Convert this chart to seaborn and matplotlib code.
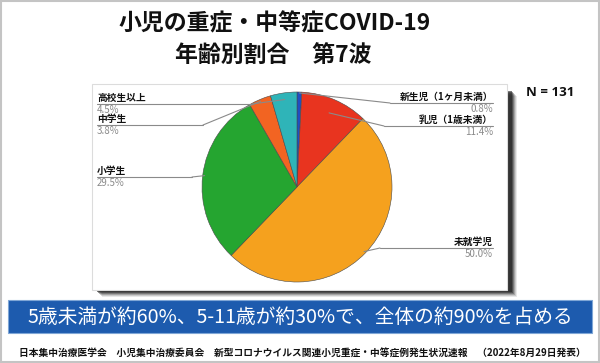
import matplotlib
matplotlib.use("Agg")
import matplotlib.pyplot as plt
import seaborn as sns
import numpy as np
from matplotlib.patches import Rectangle, ConnectionPatch
from matplotlib.lines import Line2D

# ---- data ----
title_lines = ["小児の重症・中等症COVID-19", "年齢別割合　第7波"]
categories = ["新生児（1ヶ月未満）", "乳児（1歳未満）", "未就学児", "小学生", "中学生", "高校生以上"]
values = [0.8, 11.4, 50.0, 29.5, 3.8, 4.5]
pct_labels = ["0.8%", "11.4%", "50.0%", "29.5%", "3.8%", "4.5%"]
colors = ["#1f4fc2", "#e8341f", "#f5a11e", "#25a530", "#f26422", "#2fb4b8"]
n_text = "N = 131"
banner_text = "5歳未満が約60%、5-11歳が約30%で、全体の約90%を占める"
footer_text = "日本集中治療医学会　小児集中治療委員会　新型コロナウイルス関連小児重症・中等症例発生状況速報　（2022年8月29日発表）"

sns.set_theme(style="white")
plt.rcParams['font.family'] = ['Noto Sans CJK JP', 'DejaVu Sans']

W, H = 600, 363
fig = plt.figure(figsize=(W / 100, H / 100), dpi=100)
fig.patch.set_facecolor("white")

def fx(x):
    return x / W

def fy(y):
    return 1 - y / H

# outer border
fig.add_artist(Rectangle((fx(1), fy(362)), fx(598), 361 / H, transform=fig.transFigure,
                         fill=False, edgecolor="#c4c4c4", linewidth=1.5))

# title
fig.text(fx(275), fy(24), title_lines[0], ha="center", va="center", fontsize=16.5,
         fontweight="bold", color="#111111")
fig.text(fx(273), fy(56), title_lines[1], ha="center", va="center", fontsize=16.5,
         fontweight="bold", color="#111111")

# panel shadow + panel (behind the pie axes)
px0, py0, px1, py1 = 92, 84, 507, 290
for i, a in enumerate([0.10, 0.15, 0.22, 0.32, 0.45, 0.6]):
    off = 7 - i
    fig.add_artist(Rectangle((fx(px0 + off + 3), fy(py1 + off)), (px1 - px0) / W, (py1 - py0 - 5) / H,
                             transform=fig.transFigure, facecolor="#202020", edgecolor="none",
                             alpha=a, zorder=-3))
fig.add_artist(Rectangle((fx(px0), fy(py1)), (px1 - px0) / W, (py1 - py0) / H,
                         transform=fig.transFigure, facecolor="white", edgecolor="#dcdcdc",
                         linewidth=0.8, zorder=-2))

# pie (clockwise from 12 o'clock)
cx, cy, r = 297, 187, 95
ax = fig.add_axes([fx(cx - r), fy(cy + r), 2 * r / W, 2 * r / H])
ax.pie(values, colors=colors, startangle=90, counterclock=False,
       wedgeprops=dict(edgecolor="#4a4a4a", linewidth=0.4))
ax.set_xlim(-1, 1)
ax.set_ylim(-1, 1)
ax.set_aspect("equal")
ax.axis("off")
ax.patch.set_alpha(0)

# label layout: (side, name_y, elbow_x, radius fraction)
layout = [
    ("R", 97, 390, 0.99),
    ("R", 120, 384, 0.85),
    ("R", 242, 380, 0.98),
    ("L", 171, 192, 0.98),
    ("L", 119, 203, 0.98),
    ("L", 98, 252, 0.93),
]
cum = np.concatenate([[0], np.cumsum(values)])
total = sum(values)
for i, (cat, pct) in enumerate(zip(categories, pct_labels)):
    side, ny, ex, rf = layout[i]
    uy = ny + 6
    if side == "L":
        tx, ha = 97, "left"
    else:
        tx, ha = 493, "right"
    fig.text(fx(tx), fy(ny), cat, ha=ha, va="center", fontsize=7, fontweight="bold", color="#111111")
    fig.text(fx(tx), fy(uy + 6), pct, ha=ha, va="center", fontsize=7, color="#8a8a8a")
    fig.add_artist(Line2D([fx(tx), fx(ex)], [fy(uy), fy(uy)], transform=fig.transFigure,
                          color="#8a8a8a", linewidth=0.8, zorder=3))
    mid = np.deg2rad(90 - 360 * (cum[i] + values[i] / 2) / total)
    con = ConnectionPatch(xyA=(fx(ex), fy(uy)), coordsA=fig.transFigure,
                          xyB=(rf * np.cos(mid), rf * np.sin(mid)), coordsB=ax.transData,
                          color="#8a8a8a", linewidth=0.8, zorder=3)
    fig.add_artist(con)

# N
fig.text(fx(550), fy(93), n_text, ha="center", va="center", fontsize=9.5, fontweight="bold",
         color="#111111", family=["Open Sans", "DejaVu Sans"])

# banner
fig.add_artist(Rectangle((fx(8), fy(333)), 584 / W, 33 / H, transform=fig.transFigure,
                         facecolor="#1d5bae", edgecolor="#7fa6d6", linewidth=0.8))
fig.text(fx(300), fy(317), banner_text, ha="center", va="center", fontsize=14.2, color="white")

# footer
fig.text(fx(302), fy(353), footer_text, ha="center", va="center", fontsize=7.0,
         fontweight="bold", color="#111111")

fig.savefig("out.png", dpi=100, facecolor="white")
